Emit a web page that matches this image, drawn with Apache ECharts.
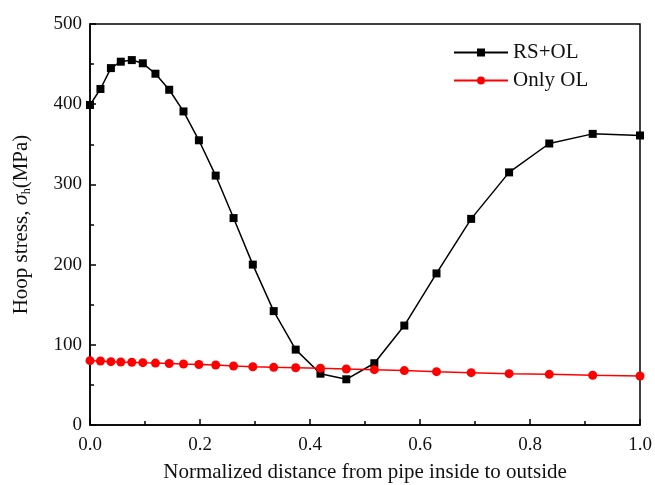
<!DOCTYPE html>
<html>
<head>
<meta charset="utf-8">
<script src="https://cdn.jsdelivr.net/npm/echarts@6/dist/echarts.min.js"></script>
<style>
  html, body { margin: 0; padding: 0; background: #fff; }
  #chart { width: 655px; height: 485px; }
</style>
</head>
<body>
<div id="chart"></div>
<script>
// normalized distance, shared by both series
const xPos = [0.0, 0.019, 0.038, 0.056, 0.076, 0.096, 0.119, 0.144, 0.170, 0.198,
              0.2285, 0.261, 0.296, 0.334, 0.374, 0.419, 0.466, 0.517, 0.5715, 0.63,
              0.693, 0.762, 0.835, 0.914, 1.0];
const rsOl = [399, 419, 445, 453, 455, 451, 438, 418, 391, 355,
              311, 258, 200, 142, 94, 64, 57, 77, 124, 189,
              257, 315, 351, 363, 361];
const onlyOl = [80.2, 79.8, 79.0, 78.6, 78.2, 77.7, 77.2, 76.7, 76.0, 75.5,
                74.8, 73.6, 72.7, 71.9, 71.4, 70.8, 69.8, 69.0, 67.8, 66.5,
                65.3, 64.0, 63.2, 62.0, 61.1];

const font = 'Liberation Serif';
const pairs = (ys) => xPos.map((x, i) => [x, ys[i]]);

const chart = echarts.init(document.getElementById('chart'));
chart.setOption({
    backgroundColor: '#fff',
    animation: false,
    grid: {
        left: 90,
        right: 15,
        top: 24,
        bottom: 60,
        outerBoundsMode: 'none',
        show: true,
        borderColor: '#000',
        borderWidth: 1.5
    },
    legend: {
        left: 448,
        top: 37,
        orient: 'vertical',
        itemWidth: 54,
        itemHeight: 10,
        itemGap: 7,
        textStyle: { fontFamily: font, fontSize: 21, color: '#111' },
        data: ['RS+OL', 'Only OL']
    },
    xAxis: {
        type: 'value',
        min: 0,
        max: 1,
        interval: 0.2,
        name: 'Normalized distance from pipe inside to outside',
        nameLocation: 'middle',
        nameGap: 37,
        nameTextStyle: { fontFamily: font, fontSize: 21, color: '#111' },
        axisLine: { lineStyle: { color: '#000', width: 1.5 } },
        axisTick: { inside: true, length: 6, lineStyle: { color: '#000', width: 1.5 } },
        minorTick: { show: true, splitNumber: 2, length: 4, lineStyle: { color: '#000', width: 1.5 } },
        splitLine: { show: false },
        axisLabel: {
            fontFamily: font, fontSize: 19, color: '#111', margin: 11,
            formatter: (v) => v.toFixed(1)
        }
    },
    yAxis: {
        type: 'value',
        min: 0,
        max: 500,
        interval: 100,
        name: '{n|Hoop stress, }{s|σ}{sub|h}{n|(MPa)}',
        nameLocation: 'middle',
        nameGap: 57,
        nameTextStyle: {
            rich: {
                n: { fontFamily: font, fontSize: 21, color: '#111' },
                s: { fontFamily: font, fontSize: 22, fontStyle: 'italic', color: '#111' },
                sub: { fontFamily: font, fontSize: 12, color: '#111', padding: [11, 0, 0, 0] }
            }
        },
        axisLine: { show: true, lineStyle: { color: '#000', width: 1.5 } },
        axisTick: { inside: true, length: 6, lineStyle: { color: '#000', width: 1.5 } },
        minorTick: { show: true, splitNumber: 2, length: 4, lineStyle: { color: '#000', width: 1.5 } },
        splitLine: { show: false },
        axisLabel: { fontFamily: font, fontSize: 19, color: '#111', margin: 8 }
    },
    series: [{
        name: 'RS+OL',
        type: 'line',
        data: pairs(rsOl),
        symbol: 'rect',
        symbolSize: 8,
        lineStyle: { color: '#000', width: 1.5 },
        itemStyle: { color: '#000' },
        z: 3
    }, {
        name: 'Only OL',
        type: 'line',
        data: pairs(onlyOl),
        symbol: 'circle',
        symbolSize: 9,
        lineStyle: { color: '#ff0000', width: 1.5 },
        itemStyle: { color: '#ff0000' },
        z: 4
    }]
});
</script>
</body>
</html>
